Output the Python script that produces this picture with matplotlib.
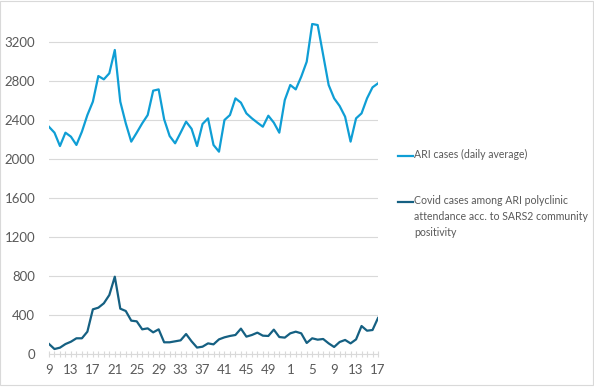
import matplotlib.pyplot as plt
from matplotlib.lines import Line2D
from matplotlib.patches import Rectangle

# ── data (weekly) ─────────────────────────────────────────────────────────────
weeks = list(range(9, 53)) + list(range(1, 18))

ari = [2330, 2270, 2133, 2270, 2229, 2144, 2280, 2451, 2588, 2851,
       2817, 2879, 3118, 2588, 2366, 2178, 2270, 2366, 2451, 2701,
       2714, 2407, 2236, 2161, 2270, 2383, 2310, 2133, 2359, 2417,
       2144, 2075, 2400, 2451, 2622, 2578, 2468, 2417, 2373, 2331,
       2444, 2373, 2270, 2605, 2759, 2714, 2844, 2998, 3385, 3374,
       3067, 2759, 2622, 2544, 2434, 2178, 2417, 2468, 2622, 2735,
       2776]

covid = [103, 51, 65, 102, 126, 161, 161, 229, 458, 475,
         520, 605, 793, 465, 441, 342, 335, 253, 263, 222,
         253, 120, 120, 130, 140, 205, 130, 66, 75, 109,
         99, 150, 171, 185, 195, 260, 178, 195, 219, 188,
         185, 250, 174, 168, 212, 229, 212, 113, 161, 147,
         154, 109, 72, 123, 144, 109, 150, 287, 239, 246,
         369]

ari_label = 'ARI cases (daily average)'
covid_label = ('Covid cases among ARI polyclinic\n'
               'attendance acc. to SARS2 community\n'
               'positivity')

# ── style ─────────────────────────────────────────────────────────────────────
ARI_C   = '#0F9ED5'
COVID_C = '#156082'
TXT_C   = '#595959'
GRID_C  = '#D9D9D9'
plt.rcParams['font.family'] = ['Lato', 'DejaVu Sans']

fig = plt.figure(figsize=(5.94, 3.87), dpi=100)
ax = fig.add_axes([49 / 594, 33 / 387, 329 / 594, 331.5 / 387])

x = list(range(len(weeks)))
ax.plot(x, ari, color=ARI_C, lw=1.6, solid_joinstyle='round')
ax.plot(x, covid, color=COVID_C, lw=1.6, solid_joinstyle='round')

ax.set_xlim(0, len(weeks) - 1)
ax.set_ylim(0, 3400)
ax.set_yticks(range(0, 3201, 400))
ax.grid(axis='y', color=GRID_C, lw=0.8)
ax.set_axisbelow(True)

ax.set_xticks(x[::4])
ax.set_xticklabels([str(w) for w in weeks[::4]])
ax.set_xticks(x, minor=True)

for s in ['top', 'right', 'left']:
    ax.spines[s].set_visible(False)
ax.spines['bottom'].set_color(GRID_C)
ax.spines['bottom'].set_linewidth(0.8)

ax.tick_params(axis='y', length=0, pad=10, labelsize=9.5, labelcolor=TXT_C)
ax.tick_params(axis='x', which='both', direction='inout', length=5,
               color=GRID_C, width=0.8)
ax.tick_params(axis='x', which='major', pad=5, labelsize=9.5,
               labelcolor=TXT_C)

# ── legend (drawn by hand to keep the key on the first text line) ─────────────
def fx(px):
    return px / 594

def fy(py):
    return 1 - py / 387

for key_y, color, label in [(156, ARI_C, ari_label),
                            (202, COVID_C, covid_label)]:
    fig.add_artist(Line2D([fx(398), fx(413)], [fy(key_y), fy(key_y)],
                          color=color, lw=1.6))
    fig.text(fx(414), fy(key_y - 7), label, ha='left', va='top',
             fontsize=7.6, color=TXT_C, linespacing=1.55)

# chart border
fig.add_artist(Rectangle((0.0008, 0.004), 0.9975, 0.994,
                         transform=fig.transFigure, fill=False,
                         edgecolor=GRID_C, lw=0.8))

fig.savefig('out.png', dpi=100)
